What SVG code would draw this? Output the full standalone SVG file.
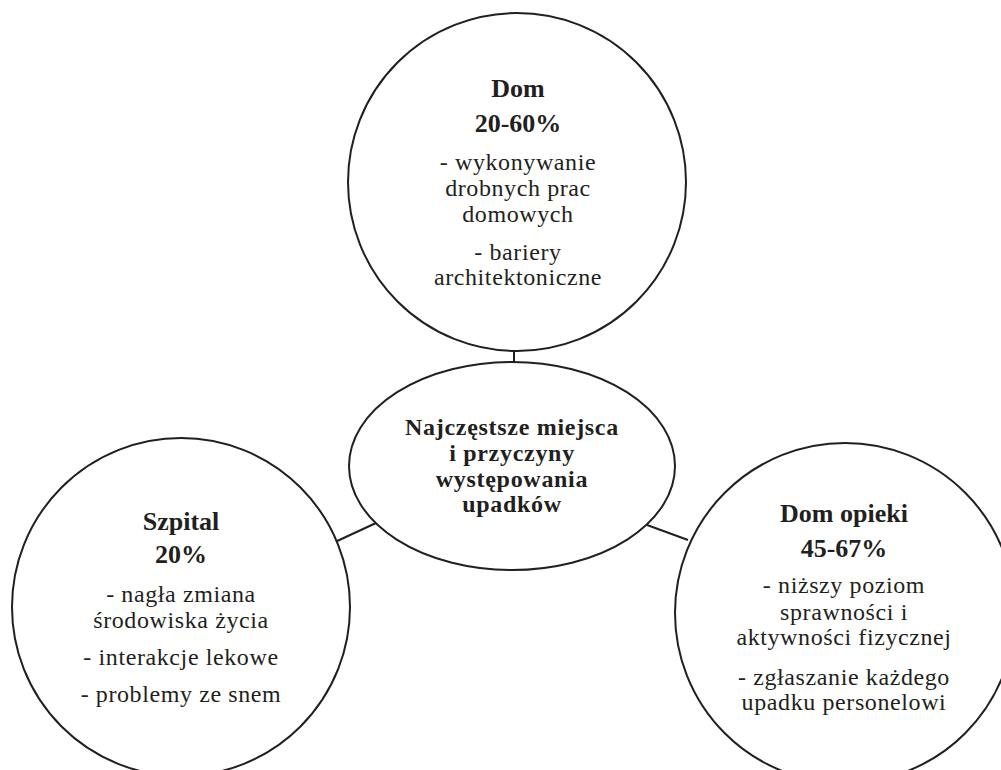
<svg xmlns="http://www.w3.org/2000/svg" width="1001" height="770" viewBox="0 0 1001 770">
<style>
.shape{fill:#fff;stroke:#231f20;stroke-width:2}
.conn{stroke:#231f20;stroke-width:2;fill:none}
text{font-family:"Liberation Serif","Times New Roman",serif;fill:#231f20;text-anchor:middle;font-size:24px;letter-spacing:0.6px}
.b{font-weight:bold;font-size:26px;letter-spacing:0}
.c{font-weight:bold;font-size:24px;letter-spacing:0.7px}
</style>
<rect x="0" y="0" width="1001" height="770" fill="#fff"/>
<g id="connectors">
<line class="conn" x1="514" y1="350" x2="514" y2="363"/>
<line class="conn" x1="335" y1="542" x2="376" y2="523"/>
<line class="conn" x1="647" y1="525" x2="688" y2="540"/>
</g>
<g id="node-dom">
<circle class="shape" cx="517" cy="182" r="169"/>
<text class="b" x="518" y="97">Dom</text>
<text class="b" x="518" y="132">20-60%</text>
<text x="518" y="170">- wykonywanie</text>
<text x="518" y="196">drobnych prac</text>
<text x="518" y="222">domowych</text>
<text x="518" y="260">- bariery</text>
<text x="518" y="285">architektoniczne</text>
</g>
<g id="node-center">
<ellipse class="shape" cx="512" cy="466" rx="163" ry="104"/>
<text class="c" x="512" y="435">Najczęstsze miejsca</text>
<text class="c" x="512" y="461">i przyczyny</text>
<text class="c" x="512" y="487">występowania</text>
<text class="c" x="512" y="512">upadków</text>
</g>
<g id="node-szpital">
<circle class="shape" cx="181" cy="607" r="169"/>
<text class="b" x="181" y="530">Szpital</text>
<text class="b" x="181" y="563">20%</text>
<text x="181" y="602">- nagła zmiana</text>
<text x="181" y="628">środowiska życia</text>
<text x="181" y="665">- interakcje lekowe</text>
<text x="181" y="702">- problemy ze snem</text>
</g>
<g id="node-dom-opieki">
<circle class="shape" cx="845" cy="613" r="170"/>
<text class="b" x="844" y="522">Dom opieki</text>
<text class="b" x="844" y="557">45-67%</text>
<text x="844" y="593">- niższy poziom</text>
<text x="844" y="620">sprawności i</text>
<text x="844" y="645">aktywności fizycznej</text>
<text x="844" y="685">- zgłaszanie każdego</text>
<text x="844" y="710">upadku personelowi</text>
</g>
</svg>
